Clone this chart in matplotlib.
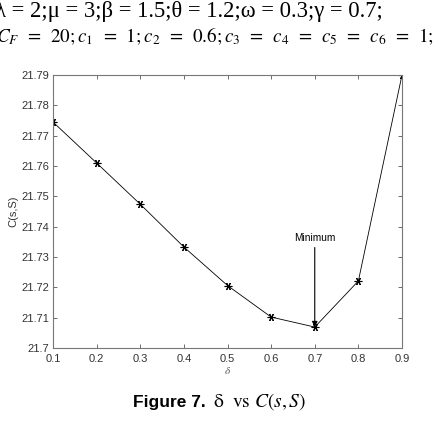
import matplotlib
matplotlib.use("Agg")
import matplotlib.pyplot as plt

delta = [0.1, 0.2, 0.3, 0.4, 0.5, 0.6, 0.7, 0.8, 0.9]
cost = [21.7745, 21.7610, 21.7474, 21.7333, 21.7206, 21.7102, 21.7069, 21.7221, 21.7900]
xticks = [0.1, 0.2, 0.3, 0.4, 0.5, 0.6, 0.7, 0.8, 0.9]
yticks = [21.70, 21.71, 21.72, 21.73, 21.74, 21.75, 21.76, 21.77, 21.78, 21.79]
min_x, min_y = 0.7, 21.7069

plt.rcParams['mathtext.fontset'] = 'stix'
fig = plt.figure(figsize=(4.44, 4.24), dpi=100)
ax = fig.add_axes([53/444, 76/424, 349/444, 273/424])

ax.plot(delta, cost, color='black', lw=0.6, marker=(6, 2, 90), ms=5.5, mew=0.8, mec='black')
ax.annotate('Minimum', xy=(min_x, min_y), xytext=(min_x, 21.7345),
            ha='center', va='bottom', fontsize=7.3, family='Liberation Sans',
            arrowprops=dict(arrowstyle='-|>', color='black', lw=0.8, shrinkA=1, shrinkB=0,
                            mutation_scale=8))

ax.set_xlim(0.1, 0.9)
ax.set_ylim(21.70, 21.79)
ax.set_xticks(xticks)
ax.set_yticks(yticks)
ax.set_xticklabels([f'{v:g}' for v in xticks])
ax.set_yticklabels([f'{v:g}' for v in yticks])
ax.tick_params(direction='in', top=True, right=True, length=3, width=0.6,
               labelsize=8, colors='#555555', labelcolor='#333333', pad=3)
ax.tick_params(axis='x', pad=4)
for s in ax.spines.values():
    s.set_color('#777777')
    s.set_linewidth(0.8)
for lab in ax.get_xticklabels() + ax.get_yticklabels():
    lab.set_family('Liberation Sans')
ax.set_xlabel(r'$\delta$', fontsize=8, color='#555555', labelpad=1)
ax.set_ylabel('C(s,S)', fontsize=8, color='#333333', family='Liberation Sans', labelpad=2)

fig.text(-0.012, 1 - 17/424, r'λ = 2;μ = 3;β = 1.5;θ = 1.2;ω = 0.3;γ = 0.7;',
         fontsize=16.3, family='Liberation Serif', ha='left', va='baseline')
fig.text(-0.008, 1 - 42/424,
         r'$C_F\ \,=\ \,20; c_1\ \,=\ \,1; c_2\ \,=\ \,0.6; c_3\ \,=\ \,c_4\ \,=\ \,c_5\ \,=\ \,c_6\ \,=\ \,1;$',
         fontsize=13.8, ha='left', va='baseline')

fig.text(133/444, 1 - 407/424, 'Figure 7.', fontsize=12.5, fontweight='bold',
         family='Liberation Sans', ha='left', va='baseline')
fig.text(213/444, 1 - 407/424, r'$\mathrm{\delta}\ \ \mathrm{vs}\ C(s,S)$', fontsize=14,
         ha='left', va='baseline')

fig.savefig('out.png', dpi=100)
